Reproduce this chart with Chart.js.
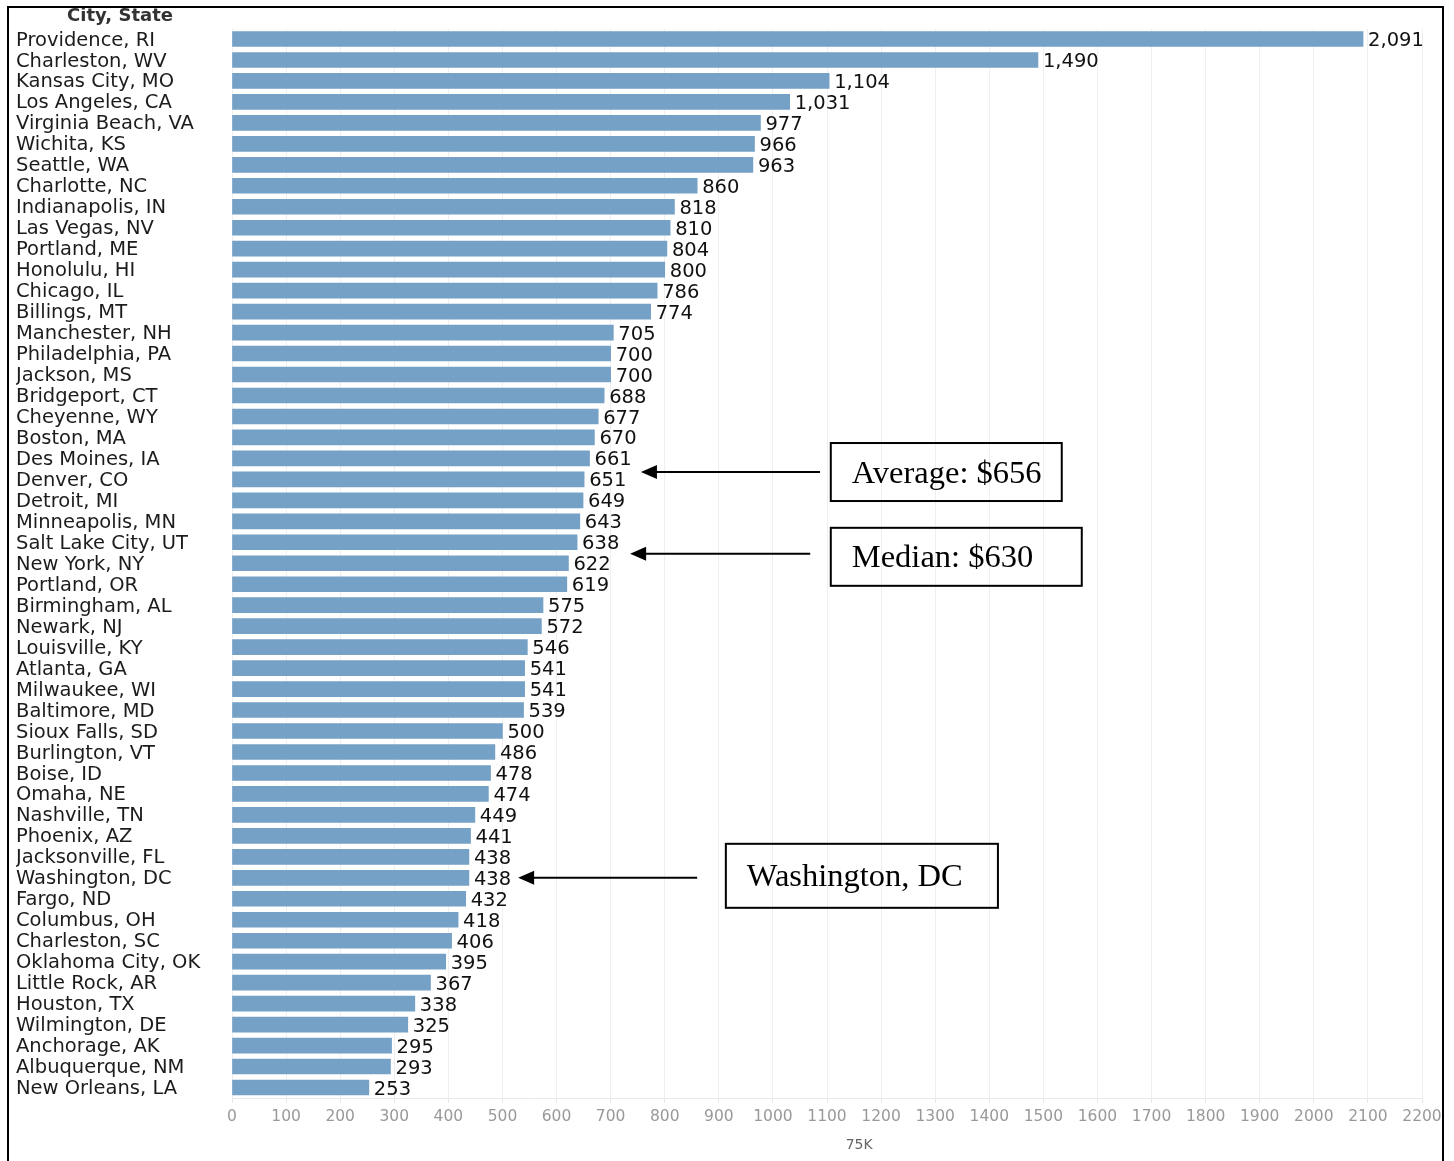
<!DOCTYPE html>
<html>
<head>
<meta charset="utf-8">
<script src="https://cdn.jsdelivr.net/npm/chart.js@4"></script>
<style>
  html, body { margin: 0; padding: 0; background: #fff; }
  #wrap { width: 1454px; height: 1161px; position: relative; }
</style>
</head>
<body>
<div id="wrap"><canvas id="chart"></canvas></div>
<script>
const cities = [
  "Providence, RI", "Charleston, WV", "Kansas City, MO", "Los Angeles, CA", "Virginia Beach, VA",
  "Wichita, KS", "Seattle, WA", "Charlotte, NC", "Indianapolis, IN", "Las Vegas, NV",
  "Portland, ME", "Honolulu, HI", "Chicago, IL", "Billings, MT", "Manchester, NH",
  "Philadelphia, PA", "Jackson, MS", "Bridgeport, CT", "Cheyenne, WY", "Boston, MA",
  "Des Moines, IA", "Denver, CO", "Detroit, MI", "Minneapolis, MN", "Salt Lake City, UT",
  "New York, NY", "Portland, OR", "Birmingham, AL", "Newark, NJ", "Louisville, KY",
  "Atlanta, GA", "Milwaukee, WI", "Baltimore, MD", "Sioux Falls, SD", "Burlington, VT",
  "Boise, ID", "Omaha, NE", "Nashville, TN", "Phoenix, AZ", "Jacksonville, FL",
  "Washington, DC", "Fargo, ND", "Columbus, OH", "Charleston, SC", "Oklahoma City, OK",
  "Little Rock, AR", "Houston, TX", "Wilmington, DE", "Anchorage, AK", "Albuquerque, NM",
  "New Orleans, LA"
];

const rents = [
  2091, 1490, 1104, 1031, 977, 966, 963, 860, 818, 810,
  804, 800, 786, 774, 705, 700, 700, 688, 677, 670,
  661, 651, 649, 643, 638, 622, 619, 575, 572, 546,
  541, 541, 539, 500, 486, 478, 474, 449, 441, 438,
  438, 432, 418, 406, 395, 367, 338, 325, 295, 293,
  253
];

const xTicks = [0, 100, 200, 300, 400, 500, 600, 700, 800, 900, 1000, 1100,
  1200, 1300, 1400, 1500, 1600, 1700, 1800, 1900, 2000, 2100, 2200];

const axisTitle = "75K";
const rowHeader = "City, State";

// callouts: row (category index, can be fractional), arrow tip / tail and box edges in data units
const notes = [
  { text: "Average: $656", row: 20.65, tip: 756, tail: 1087, boxLeft: 1107, boxRight: 1534, boxH: 58, shift: 0 },
  { text: "Median: $630", row: 24.55, tip: 736, tail: 1069, boxLeft: 1107, boxRight: 1571, boxH: 58, shift: 3 },
  { text: "Washington, DC", row: 40, tip: 529, tail: 860, boxLeft: 913, boxRight: 1416, boxH: 64, shift: -2 }
];

const labelFont = '"DejaVu Sans", Verdana, sans-serif';

const extras = {
  id: "extras",
  afterDatasetsDraw(chart) {
    const c = chart.ctx;
    const meta = chart.getDatasetMeta(0);
    c.save();
    c.font = "19.5px " + labelFont;
    c.fillStyle = "#111";
    c.textBaseline = "middle";
    c.textAlign = "left";
    meta.data.forEach((bar, i) => {
      c.fillText(rents[i].toLocaleString("en-US"), bar.x + 5, bar.y + 2);
    });
    c.restore();
  },
  afterDraw(chart) {
    const c = chart.ctx;
    const x = chart.scales.x, y = chart.scales.y;
    const area = chart.chartArea;
    c.save();

    // header over city names
    c.font = "bold 18px " + labelFont;
    c.fillStyle = "#333";
    c.textBaseline = "middle";
    c.textAlign = "center";
    c.fillText(rowHeader, 120, 16);

    // axis title
    c.font = "14px " + labelFont;
    c.fillStyle = "#666";
    c.fillText(axisTitle, area.left + (area.right - area.left) * 0.527, 1145);

    // callouts
    notes.forEach(n => {
      const py = y.getPixelForValue(n.row);
      const tipX = x.getPixelForValue(n.tip);
      const tailX = x.getPixelForValue(n.tail);
      c.strokeStyle = "#000";
      c.fillStyle = "#000";
      c.lineWidth = 2;
      c.beginPath();
      c.moveTo(tailX, py);
      c.lineTo(tipX + 12, py);
      c.stroke();
      c.beginPath();
      c.moveTo(tipX, py);
      c.lineTo(tipX + 16, py - 7);
      c.lineTo(tipX + 16, py + 7);
      c.closePath();
      c.fill();

      const bl = x.getPixelForValue(n.boxLeft);
      const br = x.getPixelForValue(n.boxRight);
      const cy = py + n.shift;
      c.strokeRect(bl, cy - n.boxH / 2, br - bl, n.boxH);
      c.font = '32.5px "Liberation Serif", "Times New Roman", serif';
      c.textAlign = "left";
      c.textBaseline = "middle";
      c.fillText(n.text, bl + 21, cy + 2);
    });

    // outer frame
    c.strokeStyle = "#000";
    c.lineWidth = 2;
    c.strokeRect(8, 7, 1435, 1200);
    c.restore();
  }
};

const ctx = document.getElementById("chart");

new Chart(ctx, {
  type: "bar",
  data: {
    labels: cities,
    datasets: [{
      data: rents,
      backgroundColor: "#75a1c7",
      barThickness: 15
    }]
  },
  options: {
    indexAxis: "y",
    responsive: true,
    maintainAspectRatio: false,
    animation: false,
    layout: { padding: { left: 16, right: 32, top: 28.5, bottom: 0 } },
    plugins: {
      legend: { display: false },
      tooltip: { enabled: false }
    },
    scales: {
      x: {
        min: 0,
        max: 2200,
        afterBuildTicks(scale) {
          scale.ticks = xTicks.map(v => ({ value: v }));
        },
        afterFit(scale) { scale.height = 63; },
        grid: {
          color: "#efefef",
          tickColor: "#e6e6e6",
          tickLength: 5,
          drawTicks: true
        },
        border: { color: "#e9e9e9" },
        ticks: {
          color: "#999",
          font: { family: labelFont, size: 15.5 },
          padding: 5,
          maxRotation: 0,
          autoSkip: false,
          callback: v => String(v)
        }
      },
      y: {
        afterFit(scale) { scale.width = 216; },
        grid: { display: false },
        border: { display: false },
        ticks: {
          crossAlign: "far",
          color: "#1c1c1c",
          font: { family: labelFont, size: 19.5 },
          padding: 0,
          labelOffset: 1.5,
          autoSkip: false
        }
      }
    }
  },
  plugins: [extras]
});
</script>
</body>
</html>
